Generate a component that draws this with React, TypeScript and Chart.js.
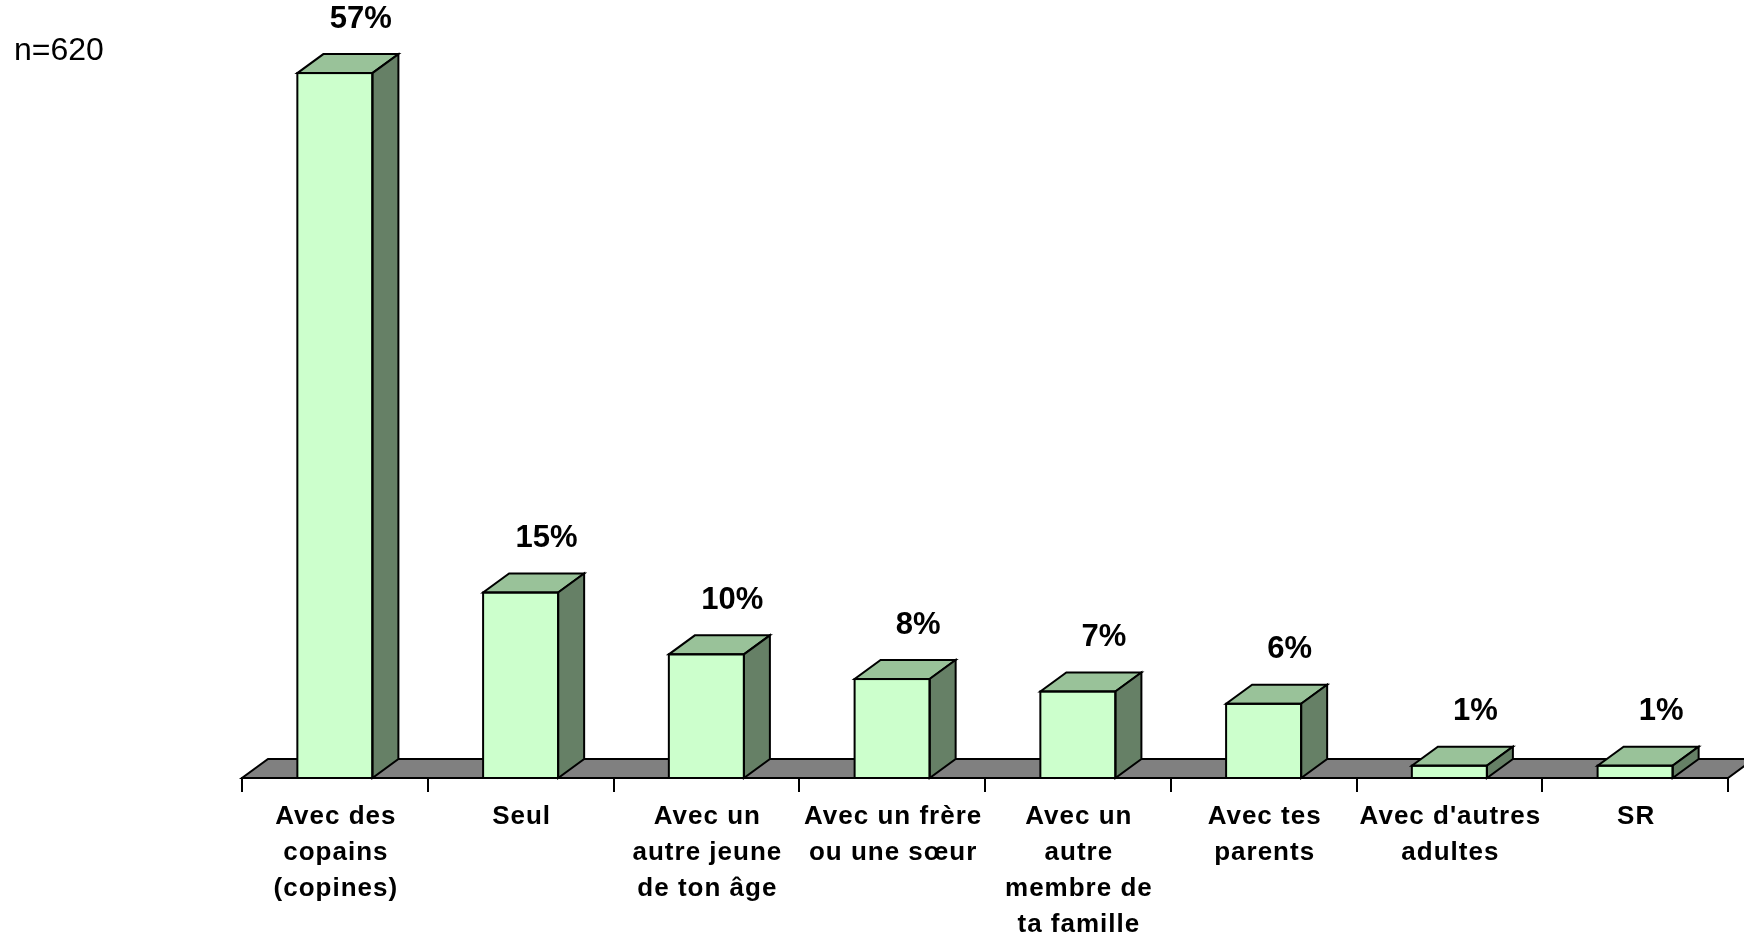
import React, { useEffect, useRef } from "react";
import { Chart, registerables } from "chart.js";

Chart.register(...registerables);

// ---- data ----
const categories: string[][] = [
  ["Avec des", "copains", "(copines)"],
  ["Seul"],
  ["Avec un", "autre jeune", "de ton âge"],
  ["Avec un frère", "ou une sœur"],
  ["Avec un", "autre", "membre de", "ta famille"],
  ["Avec tes", "parents"],
  ["Avec d'autres", "adultes"],
  ["SR"],
];
const values: number[] = [57, 15, 10, 8, 7, 6, 1, 1];
const valueLabels: string[] = ["57%", "15%", "10%", "8%", "7%", "6%", "1%", "1%"];
const sampleNote = "n=620";

// ---- styles ----
const FONT = "'Liberation Sans', Arial, sans-serif";
const FRONT = "#CCFFCC";
const TOP = "#99C299";
const SIDE = "#668066";
const FLOOR = "#808080";
const DX = 26;
const DY = 19;

function poly(ctx: CanvasRenderingContext2D, pts: number[][], fill: string) {
  ctx.beginPath();
  ctx.moveTo(pts[0][0], pts[0][1]);
  for (let i = 1; i < pts.length; i++) ctx.lineTo(pts[i][0], pts[i][1]);
  ctx.closePath();
  ctx.fillStyle = fill;
  ctx.fill();
  ctx.lineWidth = 2;
  ctx.strokeStyle = "#000";
  ctx.lineJoin = "miter";
  ctx.stroke();
}

const cuboidPlugin = {
  id: "cuboid",
  beforeDatasetsDraw(chart: any) {
    const { ctx, chartArea } = chart;
    const y0 = chartArea.bottom;
    ctx.save();
    poly(
      ctx,
      [
        [chartArea.left, y0],
        [chartArea.right, y0],
        [chartArea.right + DX, y0 - DY],
        [chartArea.left + DX, y0 - DY],
      ],
      FLOOR
    );
    ctx.restore();
  },
  afterDatasetsDraw(chart: any) {
    const { ctx } = chart;
    const meta = chart.getDatasetMeta(0);
    ctx.save();
    meta.data.forEach((bar: any, i: number) => {
      const { x, y, base, width } = bar.getProps(["x", "y", "base", "width"], true);
      const l = x - width / 2;
      const r = x + width / 2;
      poly(ctx, [[l, y], [r, y], [r + DX, y - DY], [l + DX, y - DY]], TOP);
      poly(ctx, [[r, y], [r, base], [r + DX, base - DY], [r + DX, y - DY]], SIDE);
      ctx.lineWidth = 2;
      ctx.strokeStyle = "#000";
      ctx.strokeRect(l, y, width, base - y);
      // value label
      ctx.fillStyle = "#000";
      ctx.font = `bold 31px ${FONT}`;
      (ctx as any).letterSpacing = "0px";
      ctx.textAlign = "center";
      ctx.textBaseline = "middle";
      ctx.fillText(valueLabels[i], x + 26, y - 54);
    });
    ctx.restore();
  },
  afterDraw(chart: any) {
    const { ctx, chartArea } = chart;
    const xs = chart.scales.x;
    ctx.save();
    ctx.fillStyle = "#000";
    ctx.font = `bold 26px ${FONT}`;
    (ctx as any).letterSpacing = "1px";
    ctx.textAlign = "center";
    ctx.textBaseline = "alphabetic";
    categories.forEach((lines, i) => {
      const cx = xs.getPixelForValue(i);
      lines.forEach((line, j) => {
        ctx.fillText(line, cx + 1, chartArea.bottom + 46 + j * 36);
      });
    });
    (ctx as any).letterSpacing = "0px";
    ctx.font = `32px ${FONT}`;
    ctx.textAlign = "left";
    ctx.fillText(sampleNote, 14, 60);
    ctx.restore();
  },
};

export default function App() {
  const ref = useRef<HTMLCanvasElement | null>(null);
  useEffect(() => {
    if (!ref.current) return;
    const chart = new Chart(ref.current, {
      type: "bar",
      data: {
        labels: categories.map((c) => c.join(" ")),
        datasets: [
          {
            data: values,
            backgroundColor: FRONT,
            borderWidth: 0,
            categoryPercentage: 1,
            barPercentage: 0.404,
          },
        ],
      },
      options: {
        animation: false,
        responsive: false,
        layout: { padding: { left: 242, right: 16, top: 36, bottom: 145 } },
        plugins: { legend: { display: false }, tooltip: { enabled: false } },
        scales: {
          x: {
            grid: {
              display: true,
              drawOnChartArea: false,
              drawTicks: true,
              tickLength: 14,
              color: "#000",
              lineWidth: 2,
              offset: true,
            },
            border: { display: true, color: "#000", width: 2 },
            ticks: { display: false },
          },
          y: { display: false, min: 0, max: 60 },
        },
      },
      plugins: [cuboidPlugin],
    });
    return () => chart.destroy();
  }, []);
  return (
    <div style={{ position: "absolute", left: 0, top: 0, width: 1744, height: 937, background: "#fff" }}>
      <canvas ref={ref} width={1744} height={937} style={{ display: "block" }} />
    </div>
  );
}
